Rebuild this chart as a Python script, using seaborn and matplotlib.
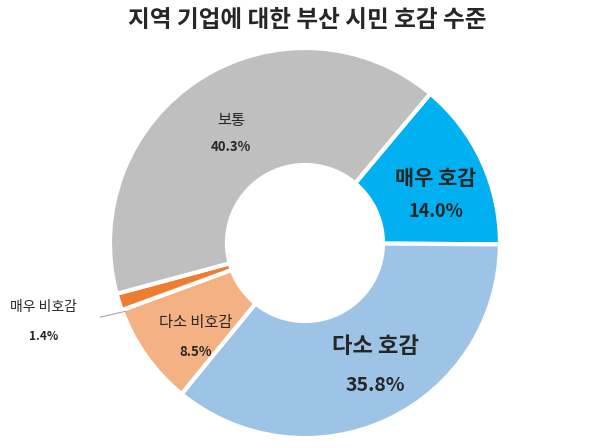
import matplotlib.pyplot as plt
import seaborn as sns

labels = ['매우 호감', '다소 호감', '다소 비호감', '매우 비호감', '보통']
values = [14.0, 35.8, 8.5, 1.4, 40.3]
colors = ['#00B0F0', '#9DC3E6', '#F4B183', '#ED7D31', '#BFBFBF']

sns.set_theme(style='white')
plt.rcParams['font.family'] = ['Noto Sans CJK KR', 'DejaVu Sans']

fig = plt.figure(figsize=(6.14, 4.48), dpi=100)
ax = fig.add_axes([0, 0, 1, 1])
wedges, _ = ax.pie(values, colors=colors, startangle=50, counterclock=False,
                   radius=1.0, wedgeprops=dict(width=0.6, edgecolor='white', linewidth=3))
ax.set_aspect('auto')
ax.set_xlim(-1.564, 1.585)
ax.set_ylim(-1.051, 1.246)
ax.axis('off')

# label placement: (x, y of name, y of value, name size, value size, bold name)
place = {
    '매우 호감': (0.67, 0.33, 0.16, 15, 13, True),
    '다소 호감': (0.36, -0.53, -0.73, 16, 14, True),
    '다소 비호감': (-0.56, -0.41, -0.56, 11, 9.5, False),
    '보통': (-0.38, 0.63, 0.49, 11, 9.5, False),
    '매우 비호감': (-1.34, -0.33, -0.48, 10, 8.5, False),
}
for lab, v in zip(labels, values):
    x, y1, y2, fs1, fs2, bold = place[lab]
    ax.text(x, y1, lab, ha='center', va='center', fontsize=fs1,
            fontweight='bold' if bold else 'normal')
    ax.text(x, y2, f'{v:.1f}%', ha='center', va='center', fontsize=fs2, fontweight='bold')

ax.plot([-0.92, -1.05], [-0.35, -0.38], color='#A6A6A6', lw=0.8)

fig.text(0.5, 0.955, '지역 기업에 대한 부산 시민 호감 수준', ha='center', va='center',
         fontsize=17, fontweight='bold')
fig.savefig('out.png', dpi=100)
